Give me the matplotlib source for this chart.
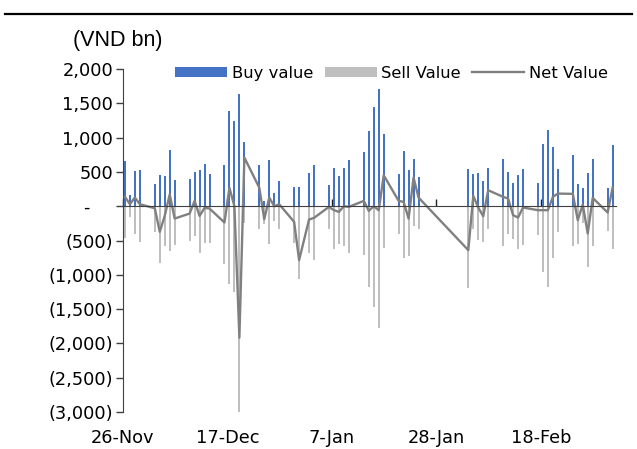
import datetime
import numpy as np
import pandas as pd
import matplotlib
matplotlib.use('Agg')
import matplotlib.pyplot as plt
import matplotlib.dates as mdates
from matplotlib.lines import Line2D

# foreign trading, daily (VND bn)
dates = ['2024-11-26', '2024-11-27', '2024-11-28', '2024-11-29',
         '2024-12-02', '2024-12-03', '2024-12-04', '2024-12-05', '2024-12-06',
         '2024-12-09', '2024-12-10', '2024-12-11', '2024-12-12', '2024-12-13',
         '2024-12-16', '2024-12-17', '2024-12-18', '2024-12-19', '2024-12-20',
         '2024-12-23', '2024-12-24', '2024-12-25', '2024-12-26', '2024-12-27',
         '2024-12-30', '2024-12-31', '2025-01-02', '2025-01-03',
         '2025-01-06', '2025-01-07', '2025-01-08', '2025-01-09', '2025-01-10',
         '2025-01-13', '2025-01-14', '2025-01-15', '2025-01-16', '2025-01-17',
         '2025-01-20', '2025-01-21', '2025-01-22', '2025-01-23', '2025-01-24',
         '2025-02-03', '2025-02-04', '2025-02-05', '2025-02-06', '2025-02-07',
         '2025-02-10', '2025-02-11', '2025-02-12', '2025-02-13', '2025-02-14',
         '2025-02-17', '2025-02-18', '2025-02-19', '2025-02-20', '2025-02-21',
         '2025-02-24', '2025-02-25', '2025-02-26', '2025-02-27', '2025-02-28',
         '2025-03-03', '2025-03-04']

buy = [655, 170, 515, 534,
       330, 451, 446, 825, 379,
       393, 495, 524, 612, 471,
       597, 1388, 1238, 1640, 942,
       597, 78, 670, 199, 364,
       277, 286, 480, 607,
       316, 558, 446, 563, 670,
       786, 1092, 1446, 1709, 1048,
       466, 806, 534, 694, 432,
       544, 466, 485, 369, 553,
       689, 495, 335, 456, 539,
       345, 903, 1107, 864, 548,
       743, 325, 262, 485, 689,
       272, 898]

sell = [-470, -155, -408, -529,
        -374, -834, -577, -660, -568,
        -510, -432, -675, -534, -534,
        -840, -1136, -1247, -3034, -243,
        -335, -260, -544, -214, -335,
        -534, -1068, -680, -791,
        -325, -631, -544, -573, -689,
        -714, -1175, -1466, -1781, -607,
        -398, -748, -723, -286, -325,
        -1199, -325, -495, -519, -335,
        -577, -398, -471, -631, -568,
        -422, -956, -1175, -762, -374,
        -577, -544, -243, -883, -577,
        -364, -631]

net = [136, 30, 126, 29,
       -30, -374, -140, 172, -180,
       -107, 78, -141, -24, -34,
       -238, 267, 0, -1917, 709,
       270, -189, 126, 0, 29,
       -228, -786, -194, -170,
       -10, -58, -83, 0, -10,
       78, -68, 0, -58, 451,
       78, 63, -180, 417, 126,
       -641, 150, -20, -146, 233,
       136, 112, -131, -165, -19,
       -58, -58, -58, 136, 184,
       180, -204, 24, -398, 121,
       -92, 272]

x_ticks = ['2024-11-26', '2024-12-17', '2025-01-07', '2025-01-28', '2025-02-18']

df = pd.DataFrame({'Date': pd.to_datetime(dates), 'Buy': buy, 'Sell': sell, 'Net': net})
xs = mdates.date2num(df['Date']) + 0.4

plt.rcParams['font.family'] = ['DejaVu Sans']
fs = 12.8

fig = plt.figure(figsize=(6.37, 4.49), dpi=100)
ax = fig.add_axes([0.193, 0.0824, 0.7734, 0.7639])

ax.bar(xs, df['Buy'], width=0.4, color='#4472C4', label='Buy value', zorder=2)
ax.bar(xs, df['Sell'], width=0.4, color='#BFBFBF', label='Sell Value', zorder=2)
ax.plot(xs, df['Net'], color='#808080', lw=1.7, label='Net Value', zorder=4)

start = mdates.date2num(pd.Timestamp('2024-11-26'))
ax.set_xlim(start, start + 99)
ax.set_ylim(-3000, 2000)
ax.set_yticks(np.arange(-3000, 2001, 500))

def yfmt(v, pos):
    if v == 0:
        return '-\u2007\u2007'
    if v < 0:
        return '({:,.0f})'.format(abs(v))
    return '{:,.0f}'.format(v)

ax.yaxis.set_major_formatter(plt.FuncFormatter(yfmt))
ax.tick_params(axis='y', direction='out', length=5, width=1, color='#404040',
               labelsize=fs, pad=2)

# horizontal axis sits on zero, labels stay at the bottom
tick_nums = mdates.date2num(pd.to_datetime(x_ticks))
ax.spines['bottom'].set_position(('data', 0))
ax.spines['bottom'].set_color('#404040')
ax.spines['bottom'].set_zorder(5)
ax.set_xticks(tick_nums)
ax.tick_params(axis='x', direction='in', length=5, width=1, color='#202020',
               labelbottom=False)
ax.spines['left'].set_color('#404040')
ax.spines['top'].set_visible(False)
ax.spines['right'].set_visible(False)

sec = ax.secondary_xaxis(0.0)
sec.set_xticks(tick_nums)
sec.set_xticklabels([f"{d.day}-{d.strftime('%b')}" for d in pd.to_datetime(x_ticks)])
sec.tick_params(length=0, labelsize=fs, pad=12)
sec.spines['bottom'].set_visible(False)

handles, labels = ax.get_legend_handles_labels()
order = [1, 2, 0]
leg = ax.legend([handles[i] for i in order], [labels[i] for i in order],
                loc='center', bbox_to_anchor=(0.6146, 0.837), bbox_transform=fig.transFigure,
                ncol=3, frameon=False, fontsize=11.8, handlelength=3.17, handleheight=0.6,
                handletextpad=0.25, columnspacing=0.73, borderpad=0)

fig.text(0.115, 0.909, '(VND bn)', fontsize=15.5, va='center', ha='left',
         family=['Liberation Sans Narrow', 'Liberation Sans'])
fig.add_artist(Line2D([0.008, 0.992], [0.969, 0.969], color='black', lw=1.6))

fig.savefig('out.png', dpi=100)
